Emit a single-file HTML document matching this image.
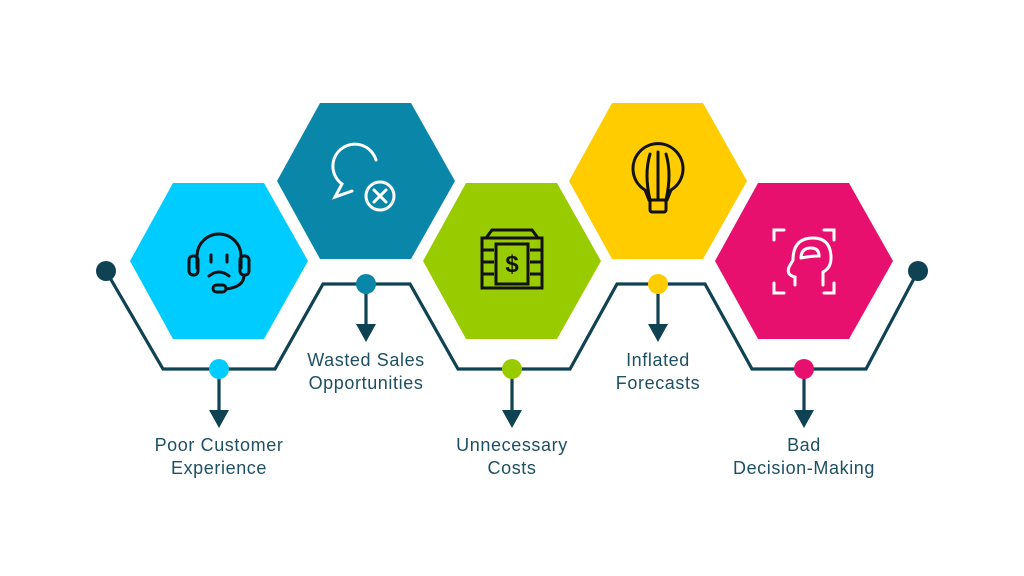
<!DOCTYPE html>
<html><head><meta charset="utf-8"><style>
html,body{margin:0;padding:0;background:#fff;}
svg{display:block}
text{font-family:"Liberation Sans",sans-serif;font-size:18px;fill:#1d5062;text-anchor:middle;letter-spacing:0.6px}
</style></head><body>
<svg width="1024" height="576" viewBox="0 0 1024 576">
<defs><polygon id="hx" points="-89,0 -46,-78 45,-78 89,0 45,78 -46,78"/></defs>
<use href="#hx" x="219" y="261" fill="#00ccff"/>
<use href="#hx" x="366" y="181" fill="#0a87a8"/>
<use href="#hx" x="512" y="261" fill="#99cc00"/>
<use href="#hx" x="658" y="181" fill="#ffcc00"/>
<use href="#hx" x="804" y="261" fill="#e8106e"/>
<g fill="none" stroke="#0f4353" stroke-width="3.2" stroke-linejoin="miter">
<polyline points="106,271 163,369 275,369 323,284 410,284 458,369 570,369 617,284 705,284 752,369 866,369 918,271"/>
<line x1="219" y1="369" x2="219" y2="412"/><line x1="366" y1="284" x2="366" y2="326"/>
<line x1="512" y1="369" x2="512" y2="412"/><line x1="658" y1="284" x2="658" y2="326"/>
<line x1="804" y1="369" x2="804" y2="412"/>
</g>
<g fill="#0f4353">
<circle cx="106" cy="271" r="10"/><circle cx="918" cy="271" r="10"/>
<polygon points="209,410 229,410 219,428"/><polygon points="356,324 376,324 366,342"/>
<polygon points="502,410 522,410 512,428"/><polygon points="648,324 668,324 658,342"/>
<polygon points="794,410 814,410 804,428"/>
</g>
<circle cx="219" cy="369" r="10" fill="#00ccff"/>
<circle cx="366" cy="284" r="10" fill="#0a87a8"/>
<circle cx="512" cy="369" r="10" fill="#99cc00"/>
<circle cx="658" cy="284" r="10" fill="#ffcc00"/>
<circle cx="804" cy="369" r="10" fill="#e8106e"/>
<g fill="none" stroke="#111" stroke-width="3" stroke-linecap="round">
<path d="M197,268 v-12 a22,22 0 0 1 44,0 v12"/>
<rect x="189" y="256" width="9" height="19" rx="4"/><rect x="240" y="256" width="9" height="19" rx="4"/>
<path d="M244,275 q0,12 -18,14"/><rect x="213" y="285" width="13" height="7" rx="3.5"/>
<line x1="211" y1="255" x2="211" y2="262"/><line x1="227" y1="255" x2="227" y2="262"/>
<path d="M209,276 q10,-8 20,0"/>
</g>
<g fill="none" stroke="#fff" stroke-width="3" stroke-linecap="round">
<path d="M376,160 a22,22 0 1 0 -34,24 l-7,13 l17,-6"/>
<circle cx="380" cy="196" r="14"/><path d="M374,190 l12,12 M386,190 l-12,12"/>
</g>
<g fill="none" stroke="#111" stroke-width="3">
<rect x="482" y="238" width="60" height="50"/><path d="M486,238 l6,-8 h40 l6,8"/>
<path d="M482,250 h12 M482,262 h12 M482,274 h12 M530,250 h12 M530,262 h12 M530,274 h12"/>
<rect x="496" y="244" width="32" height="40"/>
</g>
<text x="512" y="272" style="font-size:24px;font-weight:bold;fill:#111;letter-spacing:0">$</text>
<g fill="none" stroke="#111" stroke-width="3" stroke-linecap="round">
<path d="M645,190 a25,25 0 1 1 26,0 l-4,10 h-18 z"/>
<path d="M658,152 v48 M650,154 q-6,20 0,46 M666,154 q6,20 0,46"/>
<rect x="650" y="200" width="16" height="12" rx="2"/>
</g>
<g fill="none" stroke="#fff" stroke-width="3" stroke-linecap="round">
<path d="M774,240 v-10 h10 M834,240 v-10 h-10 M774,283 v10 h10 M834,283 v10 h-10"/>
<path d="M795,285 v-8 q-9,-2 -6,-10 l4,-7 q0,-22 20,-22 q18,0 18,20 q0,10 -8,14 v13"/>
<path d="M801,258 q0,-10 10,-10 q8,0 8,8 q-8,0 -18,2"/>
</g>
<text x="219" y="451">Poor Customer</text><text x="219" y="474">Experience</text>
<text x="366" y="366">Wasted Sales</text><text x="366" y="389">Opportunities</text>
<text x="512" y="451">Unnecessary</text><text x="512" y="474">Costs</text>
<text x="658" y="366">Inflated</text><text x="658" y="389">Forecasts</text>
<text x="804" y="451">Bad</text><text x="804" y="474">Decision-Making</text>
</svg>
</body></html>
